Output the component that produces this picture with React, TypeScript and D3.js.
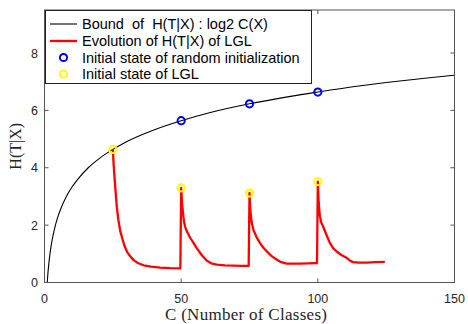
import React from "react";
import * as d3 from "d3";

// bound curve: C and H(T|X)
const boundC = [1, 1.2, 1.5, 2, 2.5, 3, 4, 5, 6, 8, 10, 12, 16, 20, 25, 30, 40, 50, 60, 75, 90, 100, 115, 125, 140, 150];
const boundH = [0, 0.26, 0.58, 1, 1.32, 1.58, 2, 2.32, 2.58, 3, 3.32, 3.58, 4, 4.32, 4.64, 4.91, 5.32, 5.64, 5.91, 6.23, 6.49, 6.64, 6.85, 6.97, 7.13, 7.23];

// evolution of H(T|X) of LGL
const lglC = [
  25, 25.3, 25.6, 25.9, 26.2, 26.5, 27.0, 27.7, 28.5, 29.3, 30.2, 31.3, 32.6, 34.3, 36.3, 39, 42.3, 46, 49.7,
  50, 50.3, 50.6, 51.0, 51.4, 52.2, 53.3, 54.5, 55.7, 57.5, 59.4, 61, 63, 66, 69.1, 72, 74.7,
  75, 75.2, 75.4, 75.8, 76.4, 77.5, 78.8, 80, 81.3, 83, 84.9, 86.6, 88.6, 91, 93.4, 96.5, 99.7,
  100, 100.3, 100.7, 101.2, 101.9, 103, 104.4, 105.6, 106.8, 108.6, 110.5, 111.7, 112.9, 115, 117.8, 121, 124.5,
];
const lglH = [
  4.64, 4.1, 3.7, 3.3, 2.95, 2.6, 2.2, 1.8, 1.52, 1.27, 1.07, 0.92, 0.78, 0.67, 0.6, 0.55, 0.52, 0.5, 0.49,
  3.3, 2.8, 2.5, 2.15, 1.95, 1.76, 1.56, 1.38, 1.2, 0.96, 0.76, 0.67, 0.62, 0.6, 0.59, 0.58, 0.58,
  3.12, 2.7, 2.43, 2.1, 1.85, 1.6, 1.38, 1.22, 1.09, 0.93, 0.8, 0.71, 0.66, 0.66, 0.66, 0.67, 0.68,
  3.52, 2.8, 2.35, 2.1, 1.96, 1.7, 1.38, 1.2, 1.09, 0.96, 0.86, 0.77, 0.71, 0.69, 0.69, 0.71, 0.72,
];

// initial states
const randomC = [50, 75, 100];
const randomH = [5.64, 6.23, 6.64];
const lglInitC = [25, 50, 75, 100];
const lglInitH = [4.64, 3.3, 3.12, 3.52];

const xTicks = [0, 50, 100, 150];
const yTicks = [0, 2, 4, 6, 8];

const legendLabels = [
  "Bound  of  H(T|X) : log2 C(X)",
  "Evolution of H(T|X) of LGL",
  "Initial state of random initialization",
  "Initial state of LGL",
];

export default function App() {
  const W = 468, H = 324;
  const x = d3.scaleLinear().domain([0, 150]).range([44.5, 454.5]);
  const y = d3.scaleLinear().domain([0, 9.5]).range([282.5, 10]);

  const boundLine = d3
    .line<number>()
    .x((d, i) => x(boundC[i]))
    .y((d) => y(d))
    .curve(d3.curveMonotoneX);
  const lglLine = d3
    .line<number>()
    .x((d, i) => x(lglC[i]))
    .y((d) => y(d));

  const [x0, x1] = x.range();
  const [y0, y1] = y.range();
  const tickLen = 4;
  const axisColor = "#555";
  const sans = "'Liberation Sans', Arial, sans-serif";
  const serif = "'Liberation Serif', 'Times New Roman', serif";

  const legRows = [24, 41, 57.5, 74];

  return (
    <svg width={W} height={H} style={{ position: "absolute", left: 0, top: 0, background: "#fff" }}>
      <rect x={0} y={0} width={W} height={H} fill="#fff" />

      {/* data */}
      <path d={boundLine(boundH) || ""} fill="none" stroke="#000" strokeWidth={1.1} />
      <path d={lglLine(lglH) || ""} fill="none" stroke="#ff0000" strokeWidth={2.3} strokeLinejoin="round" />
      {randomC.map((c, i) => (
        <circle key={"r" + i} cx={x(c)} cy={y(randomH[i])} r={3.6} fill="none" stroke="#0000ff" strokeWidth={2} />
      ))}
      {lglInitC.map((c, i) => (
        <circle key={"l" + i} cx={x(c)} cy={y(lglInitH[i])} r={3.6} fill="none" stroke="#ffff00" strokeWidth={2} />
      ))}

      {/* axes box */}
      <rect x={x0} y={y1} width={x1 - x0} height={y0 - y1} fill="none" stroke={axisColor} strokeWidth={1} />
      {xTicks.map((t) => (
        <g key={"xt" + t}>
          <line x1={x(t)} x2={x(t)} y1={y0} y2={y0 - tickLen} stroke={axisColor} />
          <line x1={x(t)} x2={x(t)} y1={y1} y2={y1 + tickLen} stroke={axisColor} />
          <text x={x(t)} y={302.5} textAnchor="middle" fontFamily={sans} fontSize={12.5} fill="#262626">
            {t}
          </text>
        </g>
      ))}
      {yTicks.map((t) => (
        <g key={"yt" + t}>
          <line x1={x0} x2={x0 + tickLen} y1={y(t)} y2={y(t)} stroke={axisColor} />
          <line x1={x1} x2={x1 - tickLen} y1={y(t)} y2={y(t)} stroke={axisColor} />
          <text x={38} y={y(t) + 4.5} textAnchor="end" fontFamily={sans} fontSize={12.5} fill="#262626">
            {t}
          </text>
        </g>
      ))}

      <text x={246} y={320} textAnchor="middle" fontFamily={serif} fontSize={17} textLength={162} fill="#262626">
        C (Number of Classes)
      </text>
      <text
        transform={`translate(21, ${(y0 + y1) / 2}) rotate(-90)`}
        textAnchor="middle"
        fontFamily={serif}
        fontSize={16}
        fill="#262626"
      >
        H(T|X)
      </text>

      {/* legend */}
      <rect x={45.5} y={10.5} width={266} height={73} fill="#fff" stroke="#222" strokeWidth={1} />
      <line x1={50} x2={77} y1={legRows[0]} y2={legRows[0]} stroke="#000" strokeWidth={1.1} />
      <line x1={50} x2={77} y1={legRows[1]} y2={legRows[1]} stroke="#ff0000" strokeWidth={2.3} />
      <circle cx={63.5} cy={legRows[2]} r={3.6} fill="none" stroke="#0000ff" strokeWidth={2} />
      <circle cx={63.5} cy={legRows[3]} r={3.6} fill="none" stroke="#ffff00" strokeWidth={2} />
      {legendLabels.map((s, i) => (
        <text key={"lg" + i} x={82} y={legRows[i] + 5} fontFamily={sans} fontSize={14.5} fill="#000" style={{ whiteSpace: "pre" }}>
          {s}
        </text>
      ))}
    </svg>
  );
}
